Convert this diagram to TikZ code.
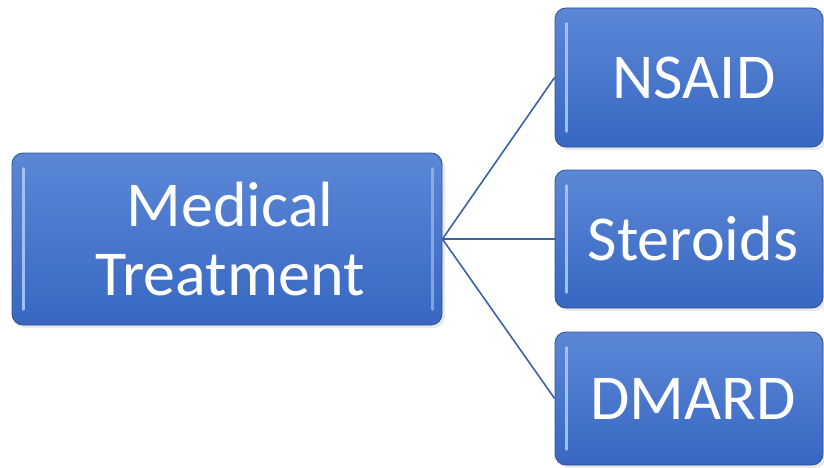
\documentclass[tikz,border=0pt]{standalone}
\usepackage{fontspec}
\setmainfont{Carlito}
\usetikzlibrary{shadings}
\definecolor{boxtop}{HTML}{5C87D6}
\definecolor{boxbot}{HTML}{3767C2}
\definecolor{boxline}{HTML}{2E5290}
\definecolor{linkcol}{HTML}{3D62A3}
\definecolor{hilite}{HTML}{A9CAF7}
\tikzset{
  boxnode/.style={rectangle, rounded corners=11pt, draw=boxline, line width=0.8pt,
    top color=boxtop, bottom color=boxbot, inner sep=0pt},
  lbl/.style={text=white, align=center, font=\fontsize{64}{69}\selectfont, inner sep=0pt},
  link/.style={draw=linkcol, line width=1.6pt},
  hl/.style={draw=hilite, line width=3pt, line cap=round, opacity=0.9},
  shade/.style={fill=black!25, opacity=0.35, rounded corners=11pt}
}
\begin{document}
\begin{tikzpicture}[x=1pt,y=-1pt]
\useasboundingbox (0,0) rectangle (824,468);
% shadows
\fill[shade] (14,156) rectangle (445,328);
\fill[shade] (557,11) rectangle (826,150);
\fill[shade] (557,173) rectangle (826,311);
\fill[shade] (557,335) rectangle (826,468);
% boxes
\node[boxnode, minimum width=430pt, minimum height=172pt] (mt) at (227,239) {};
\node[boxnode, minimum width=268pt, minimum height=139pt] (ns) at (689,77.5) {};
\node[boxnode, minimum width=268pt, minimum height=138pt] (st) at (689,239) {};
\node[boxnode, minimum width=268pt, minimum height=133pt] (dm) at (689,398.5) {};
% labels
\node[lbl] (mtl) at (230,239) {Medical\\Treatment};
\node[lbl] (nsl) at (694,77.5) {NSAID};
\node[lbl] (stl) at (693,239) {Steroids};
\node[lbl] (dml) at (693,398.5) {DMARD};
% highlights
\foreach \n in {mt,ns,st,dm}{
  \draw[hl] ([xshift=12pt,yshift=-16pt]\n.north west) -- ([xshift=12pt,yshift=16pt]\n.south west);
}
\draw[hl, opacity=0.6] ([xshift=-10pt,yshift=-16pt]mt.north east) -- ([xshift=-10pt,yshift=16pt]mt.south east);
% connectors
\draw[link] (mt.east) -- (ns.west);
\draw[link] (mt.east) -- (st.west);
\draw[link] (mt.east) -- (dm.west);
\end{tikzpicture}
\end{document}
